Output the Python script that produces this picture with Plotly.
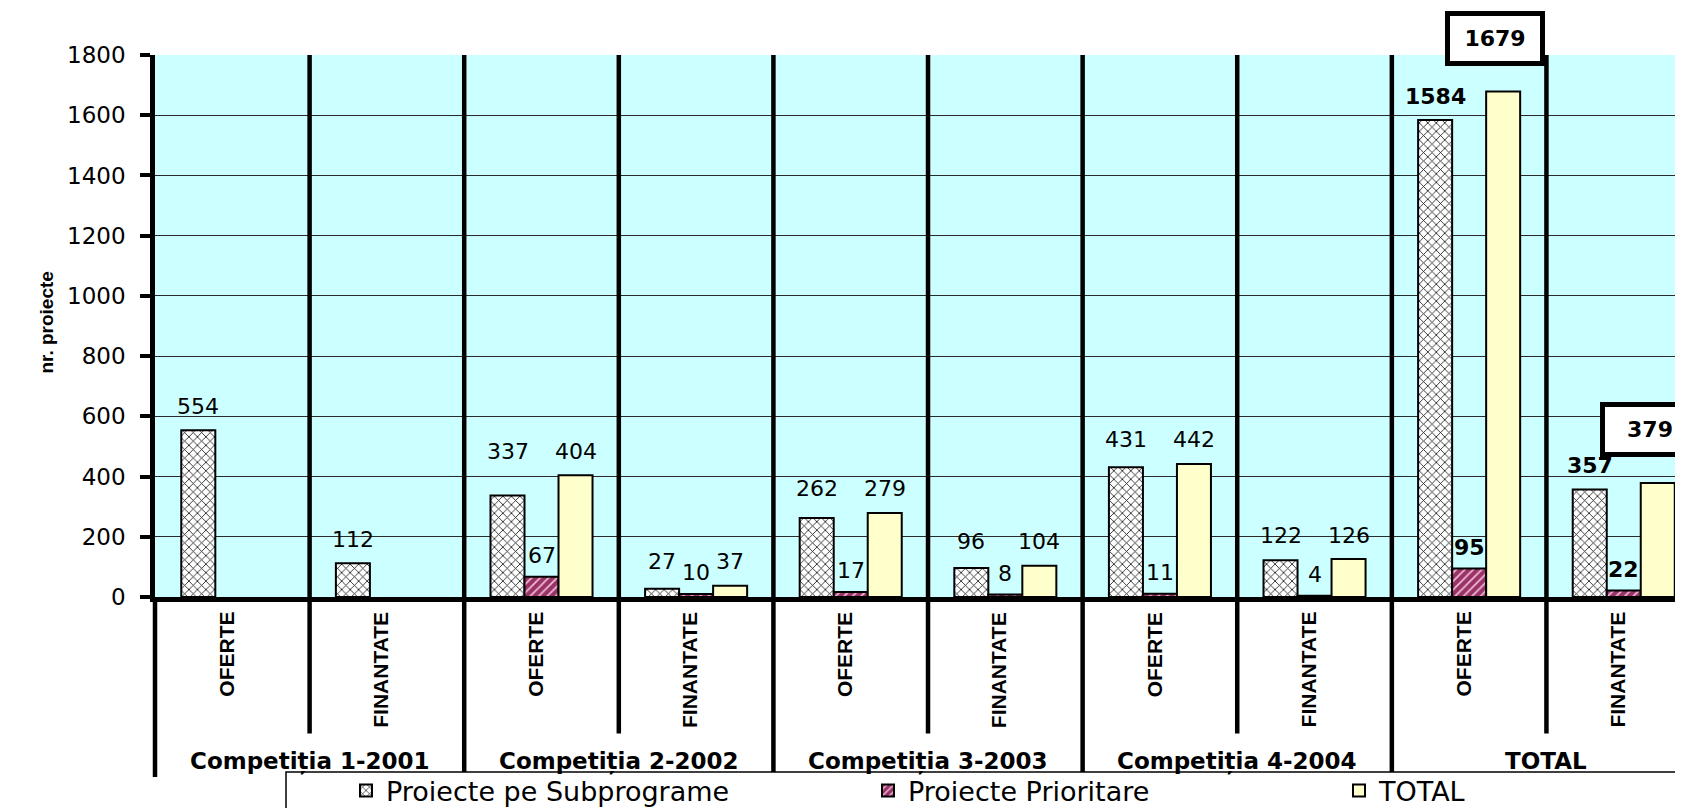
import plotly.graph_objects as go

# ---------------- data ----------------
sub_cats = ["OFERTE", "FINANTATE"] * 5
groups = ["Competiția 1-2001", "Competiția 2-2002", "Competiția 3-2003",
          "Competiția 4-2004", "TOTAL"]
series_names = ["Proiecte pe Subprograme", "Proiecte Prioritare", "TOTAL"]
subprograme = [554, 112, 337, 27, 262, 96, 431, 122, 1584, 357]
prioritare = [None, None, 67, 10, 17, 8, 11, 4, 95, 22]
total = [None, None, 404, 37, 279, 104, 442, 126, 1679, 379]
y_ticks = [0, 200, 400, 600, 800, 1000, 1200, 1400, 1600, 1800]

# ---------------- layout constants ----------------
W, H = 1683, 808
L, R, T, B = 147, 0, 47, 213
PW, PH = W - L - R, H - T - B
BARGAP = 0.34
BW = (1 - BARGAP) / 3


def py(pix):  # pixel y -> paper y
    return (H - B - pix) / PH


def px(pix):  # pixel x -> paper x
    return (pix - L) / PW


x = list(range(len(sub_cats)))
fig = go.Figure()

fig.add_trace(go.Bar(
    x=x, y=subprograme, name=series_names[0], legend="legend",
    marker=dict(color="white", line=dict(color="black", width=2),
                pattern=dict(shape="x", fgcolor="#111111", bgcolor="white",
                             size=6, solidity=0.25, fillmode="replace")),
))
fig.add_trace(go.Bar(
    x=x, y=prioritare, name=series_names[1], legend="legend2",
    marker=dict(color="#993366", line=dict(color="black", width=2),
                pattern=dict(shape="/", fgcolor="#F2B8D6", bgcolor="#993366",
                             size=6, solidity=0.3, fillmode="replace")),
))
fig.add_trace(go.Bar(
    x=x, y=total, name=series_names[2], legend="legend3",
    marker=dict(color="#FFFFCC", line=dict(color="black", width=2)),
))

annotations = []
shapes = []

# data labels
boxed_cats = {8, 9}
for i in x:
    bold = i in boxed_cats
    fam = "DejaVu Sans"
    fnt = dict(family=fam, size=22, color="black", weight="bold" if bold else "normal")
    s, p, t = subprograme[i], prioritare[i], total[i]
    base = s if (t is None or i in boxed_cats) else max(s, t)
    annotations.append(dict(x=i - BW, y=base, xref="x", yref="y", text=str(s),
                            showarrow=False, yanchor="middle", yshift=24, font=fnt))
    if p is not None:
        annotations.append(dict(x=i, y=p, xref="x", yref="y", text=str(p),
                                showarrow=False, yanchor="middle", yshift=21, font=fnt))
    if t is not None:
        if i in boxed_cats:
            annotations.append(dict(x=i + BW, y=t, xref="x", yref="y", text=str(t),
                                    showarrow=False, yanchor="middle", yshift=53, xshift=-8,
                                    font=dict(family=fam, size=22, color="black", weight="bold"),
                                    bgcolor="white", bordercolor="black", borderwidth=5,
                                    width=88, height=43))
        else:
            annotations.append(dict(x=i + BW, y=base, xref="x", yref="y", text=str(t),
                                    showarrow=False, yanchor="middle", yshift=24, font=fnt))

# category labels (rotated)
for i, c in enumerate(sub_cats):
    annotations.append(dict(x=i, y=py(608), xref="x", yref="paper", text=c,
                            showarrow=False, textangle=-90, yanchor="top", xanchor="center",
                            xshift=-6,
                            font=dict(family="Liberation Sans", size=21, color="black",
                                      weight="bold")))

# group labels
for j, g in enumerate(groups):
    annotations.append(dict(x=2 * j + 0.5, y=py(761), xref="x", yref="paper", text=g,
                            showarrow=False, yanchor="middle", xanchor="center",
                            font=dict(family="DejaVu Sans", size=23, color="black",
                                      weight="bold")))

# y axis title
annotations.append(dict(x=px(26), y=py(318), xref="paper", yref="paper", text="nr. proiecte",
                        showarrow=False, textangle=-90,
                        font=dict(family="Liberation Sans", size=19, color="black",
                                  weight="bold")))

# separators
for b in range(len(sub_cats) - 1):
    major = (b % 2 == 1)
    shapes.append(dict(type="line", xref="x", yref="paper", x0=b + 0.5, x1=b + 0.5,
                       y0=1, y1=py(772) if major else py(733),
                       line=dict(color="black", width=4.5)))
# y axis extension below plot
shapes.append(dict(type="line", xref="paper", yref="paper", x0=0, x1=0,
                   y0=0, y1=py(777), line=dict(color="black", width=4.5)))
# legend box
shapes.append(dict(type="rect", xref="paper", yref="paper", x0=px(278), x1=1.05,
                   y0=py(772), y1=py(830), line=dict(color="black", width=1.5),
                   fillcolor="white"))

leg_font = dict(family="DejaVu Sans", size=27, color="black")
leg_y = py(791)


def leg(icon_center):
    return dict(x=px(icon_center - 27), y=leg_y, xanchor="left", yanchor="middle",
                orientation="h", bgcolor="rgba(0,0,0,0)", borderwidth=0, font=leg_font)


fig.update_layout(
    width=W, height=H,
    margin=dict(l=L, r=R, t=T, b=B, pad=0),
    paper_bgcolor="white",
    plot_bgcolor="#CCFFFF",
    barmode="group",
    bargap=BARGAP,
    bargroupgap=0,
    showlegend=True,
    legend=leg(365),
    legend2=leg(887),
    legend3=leg(1358),
    xaxis=dict(range=[-0.5, 9.435], showticklabels=False, ticks="", showgrid=False,
               zeroline=False, showline=True, linecolor="black", linewidth=4.5,
               fixedrange=True),
    yaxis=dict(range=[0, 1800], tickvals=y_ticks, ticktext=[str(v) for v in y_ticks],
               showgrid=True, gridcolor="#2A2A2A", gridwidth=1, zeroline=False,
               showline=True, linecolor="black", linewidth=4.5, ticks="outside",
               ticklen=10, tickwidth=4, tickcolor="black", ticklabelstandoff=10,
               tickfont=dict(family="DejaVu Sans", size=23, color="black"),
               fixedrange=True),
    annotations=annotations,
    shapes=shapes,
)

fig.write_html("out.html")
